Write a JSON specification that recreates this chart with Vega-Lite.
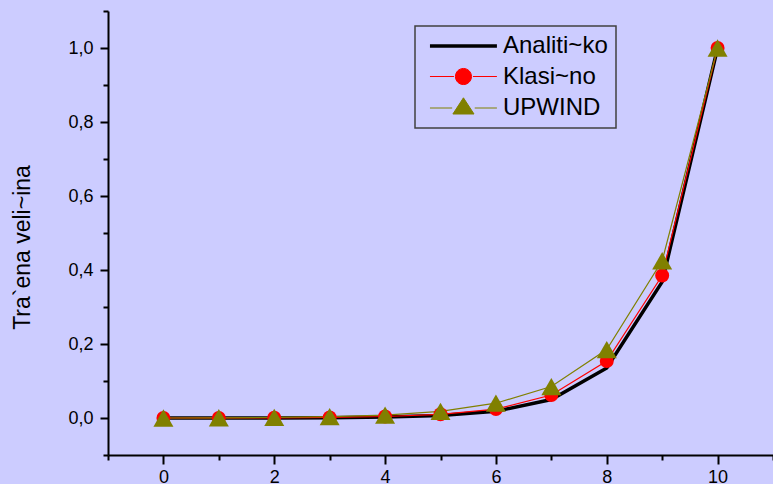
{
  "$schema": "https://vega.github.io/schema/vega-lite/v6.json",
  "autosize": {"type": "none"},
  "padding": {"left": 108, "top": 11, "right": 0, "bottom": 29},
  "width": 665,
  "height": 444,
  "background": "#ccccff",
  "config": {
    "view": {"stroke": null},
    "font": "Liberation Sans",
    "axis": {
      "domainColor": "black", "domainWidth": 2, "tickColor": "black", "tickWidth": 2,
      "labelFont": "Liberation Sans", "labelFontSize": 18, "labelColor": "black",
      "titleFont": "Liberation Sans", "titleFontWeight": "normal", "titleColor": "black",
      "grid": false
    }
  },
  "data": {
    "values": [
      {"x": 0, "s": "Analiti~ko", "y": 0.0},
      {"x": 1, "s": "Analiti~ko", "y": 0.0001},
      {"x": 2, "s": "Analiti~ko", "y": 0.0003},
      {"x": 3, "s": "Analiti~ko", "y": 0.0008},
      {"x": 4, "s": "Analiti~ko", "y": 0.0024},
      {"x": 5, "s": "Analiti~ko", "y": 0.0067},
      {"x": 6, "s": "Analiti~ko", "y": 0.018},
      {"x": 7, "s": "Analiti~ko", "y": 0.05},
      {"x": 8, "s": "Analiti~ko", "y": 0.135},
      {"x": 9, "s": "Analiti~ko", "y": 0.368},
      {"x": 10, "s": "Analiti~ko", "y": 1.0},
      {"x": 0, "s": "Klasi~no", "y": 0.0},
      {"x": 1, "s": "Klasi~no", "y": 0.0002},
      {"x": 2, "s": "Klasi~no", "y": 0.0006},
      {"x": 3, "s": "Klasi~no", "y": 0.0015},
      {"x": 4, "s": "Klasi~no", "y": 0.004},
      {"x": 5, "s": "Klasi~no", "y": 0.01},
      {"x": 6, "s": "Klasi~no", "y": 0.024},
      {"x": 7, "s": "Klasi~no", "y": 0.062},
      {"x": 8, "s": "Klasi~no", "y": 0.154},
      {"x": 9, "s": "Klasi~no", "y": 0.385},
      {"x": 10, "s": "Klasi~no", "y": 1.0},
      {"x": 0, "s": "UPWIND", "y": 0.0},
      {"x": 1, "s": "UPWIND", "y": 0.0006},
      {"x": 2, "s": "UPWIND", "y": 0.0015},
      {"x": 3, "s": "UPWIND", "y": 0.0035},
      {"x": 4, "s": "UPWIND", "y": 0.008},
      {"x": 5, "s": "UPWIND", "y": 0.018},
      {"x": 6, "s": "UPWIND", "y": 0.04},
      {"x": 7, "s": "UPWIND", "y": 0.085},
      {"x": 8, "s": "UPWIND", "y": 0.185},
      {"x": 9, "s": "UPWIND", "y": 0.425},
      {"x": 10, "s": "UPWIND", "y": 1.0}
    ]
  },
  "encoding": {
    "x": {
      "field": "x", "type": "quantitative",
      "scale": {"domain": [-1, 11], "nice": false, "zero": false},
      "axis": {
        "title": null,
        "values": [-1, 0, 1, 2, 3, 4, 5, 6, 7, 8, 9, 10, 11],
        "labelExpr": "(datum.value % 2 == 0 && datum.value >= 0 && datum.value <= 10) ? format(datum.value, 'd') : ''",
        "tickSize": {"condition": {"test": "datum.value % 2 == 0 && datum.value >= 0 && datum.value <= 10", "value": 9}, "value": 5},
        "labelPadding": 4,
        "labelFlush": false,
        "labelOverlap": false
      }
    },
    "y": {
      "field": "y", "type": "quantitative",
      "scale": {"domain": [-0.1, 1.1], "nice": false, "zero": false},
      "axis": {
        "title": "Tra`ena veli~ina",
        "titleFontSize": 23,
        "titlePadding": 33,
        "titleY": 236,
        "values": [-0.1, 0, 0.1, 0.2, 0.3, 0.4, 0.5, 0.6, 0.7, 0.8, 0.9, 1.0, 1.1],
        "labelExpr": "(round(datum.value * 10) % 2 == 0) ? replace(format(datum.value, '.1f'), '.', ',') : ''",
        "tickSize": {"condition": {"test": "round(datum.value * 10) % 2 == 0", "value": 8}, "value": 5},
        "labelPadding": 7,
        "labelFlush": false,
        "labelOverlap": false
      }
    }
  },
  "layer": [
    {
      "mark": {"type": "line", "clip": false},
      "encoding": {
        "color": {
          "field": "s", "type": "nominal",
          "scale": {"domain": ["Analiti~ko", "Klasi~no", "UPWIND"], "range": ["#000000", "#ff0000", "#808000"]},
          "legend": {
            "title": null,
            "orient": "none",
            "legendX": 307,
            "legendY": 15,
            "symbolType": "M-0.42,0H5.16",
            "symbolSize": 576,
            "rowPadding": 6.5,
            "padding": 8,
            "labelFont": "Liberation Sans",
            "labelFontSize": 24,
            "labelColor": "black",
            "labelOffset": 56,
            "strokeColor": "#404040",
            "encode": {
              "symbols": {
                "update": {
                  "shape": {"signal": "datum.value === 'Analiti~ko' ? 'M-0.42,0H5.16' : datum.value === 'Klasi~no' ? 'M-0.42,0H1.58M3.16,0H5.16M1.70,0A0.667,0.667 0 1,1 3.04,0A0.667,0.667 0 1,1 1.70,0Z' : 'M-0.42,0H1.43M3.31,0H5.16M2.37,-0.85L3.25,0.5L1.49,0.5Z'"},
                  "strokeWidth": {"signal": "datum.value === 'Analiti~ko' ? 3.5 : 1"},
                  "fill": {"signal": "datum.value === 'Analiti~ko' ? 'transparent' : (datum.value === 'Klasi~no' ? '#ff0000' : '#808000')"},
                  "fillOpacity": {"value": 1},
                  "opacity": {"value": 1}
                }
              },
              "legend": {"update": {"strokeWidth": {"value": 1.5}}}
            }
          }
        },
        "strokeWidth": {"condition": {"test": "datum.s === 'Analiti~ko'", "value": 3.5}, "value": 1.2}
      }
    },
    {
      "transform": [{"filter": "datum.s !== 'Analiti~ko'"}],
      "mark": {"type": "point", "filled": true, "opacity": 1, "clip": false},
      "encoding": {
        "shape": {"condition": {"test": "datum.s === 'UPWIND'", "value": "triangle-up"}, "value": "circle"},
        "size": {"condition": {"test": "datum.s === 'UPWIND'", "value": 400}, "value": 195},
        "color": {"condition": {"test": "datum.s === 'UPWIND'", "value": "#808000"}, "value": "#ff0000"}
      }
    }
  ]
}
